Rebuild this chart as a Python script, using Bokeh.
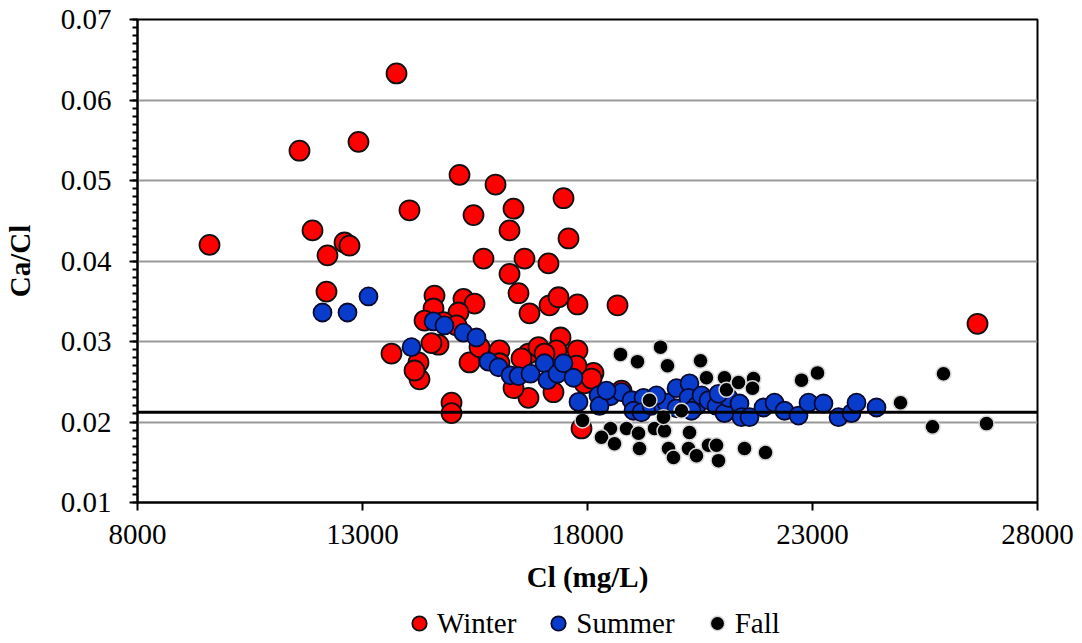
from bokeh.plotting import figure
from bokeh.layouts import column
from bokeh.models import (ColumnDataSource, FixedTicker, PrintfTickFormatter, Span,
                          Legend, LegendItem, Range1d)
from bokeh.embed import file_html
from bokeh.resources import INLINE

# ---------------- data ----------------
winter_cl = [9600, 11600, 11889, 12222, 12200, 12600, 12711, 12911, 13644, 13756,
             14044, 14244, 14267, 14156, 14600, 14578, 14378, 14689, 14533, 14978,
             14978, 15156, 15244, 15378, 15467, 15489, 15689, 15133, 15956, 16044,
             16044, 16356, 16267, 16267, 16467, 16600, 16711, 16689, 16689, 16356,
             17133, 17156, 17356, 17467, 17578, 17244, 17400, 16911, 17778, 17778,
             17933, 17867, 18133, 18667, 18756, 26667, 15600, 17311, 14800, 17044,
             17756, 18089, 15089, 16533]
winter_ratio = [0.0420, 0.0537, 0.0438, 0.0407, 0.0362, 0.0423, 0.0419, 0.0548, 0.0285, 0.0633,
                0.0463, 0.0274, 0.0253, 0.0264, 0.0357, 0.0341, 0.0326, 0.0296, 0.0298, 0.0224,
                0.0211, 0.0507, 0.0353, 0.0274, 0.0457, 0.0347, 0.0403, 0.0336, 0.0495, 0.0289,
                0.0273, 0.0465, 0.0438, 0.0384, 0.0360, 0.0403, 0.0335, 0.0285, 0.0230, 0.0242,
                0.0397, 0.0345, 0.0355, 0.0478, 0.0428, 0.0237, 0.0305, 0.0293, 0.0346, 0.0289,
                0.0248, 0.0192, 0.0261, 0.0345, 0.0239, 0.0322, 0.0293, 0.0289, 0.0324, 0.0285,
                0.0270, 0.0254, 0.0320, 0.0279]

summer_cl = [12111, 12667, 13133, 14089, 14578, 14822, 15244, 15533, 15800, 16022,
             16289, 16467, 16733, 17044, 17111, 17333, 17467, 17689, 17800, 18244,
             18511, 18756, 18978, 19244, 19022, 19200, 19422, 19689, 19756, 19978,
             19978, 20267, 20244, 20422, 20533, 20689, 20867, 21044, 21133, 21378,
             21422, 21600, 21911, 22156, 22378, 22689, 22911, 23244, 23578, 23867,
             23978, 24422, 18267, 19533, 20911, 20311, 18422]
summer_ratio = [0.0336, 0.0336, 0.0356, 0.0293, 0.0325, 0.0320, 0.0311, 0.0305, 0.0275, 0.0268,
                0.0258, 0.0257, 0.0260, 0.0273, 0.0252, 0.0260, 0.0273, 0.0255, 0.0225, 0.0233,
                0.0232, 0.0237, 0.0227, 0.0230, 0.0214, 0.0212, 0.0220, 0.0217, 0.0224, 0.0242,
                0.0217, 0.0248, 0.0230, 0.0220, 0.0233, 0.0227, 0.0220, 0.0211, 0.0230, 0.0223,
                0.0206, 0.0206, 0.0218, 0.0224, 0.0214, 0.0208, 0.0224, 0.0223, 0.0206, 0.0211,
                0.0224, 0.0218, 0.0220, 0.0233, 0.0235, 0.0214, 0.0239]

fall_cl = [18733, 19111, 19622, 19778, 20511, 20644, 21044, 21089, 21356, 21689,
           21667, 17889, 18511, 18311, 18600, 18867, 19133, 19156, 19489, 19711,
           19689, 19800, 19911, 20267, 20244, 20422, 20689, 20867, 20911, 21489,
           21956, 22756, 23111, 24956, 25667, 25911, 26867, 20089, 19378]
fall_ratio = [0.0284, 0.0275, 0.0293, 0.0270, 0.0276, 0.0255, 0.0255, 0.0240, 0.0249, 0.0254,
              0.0242, 0.0202, 0.0192, 0.0181, 0.0173, 0.0192, 0.0186, 0.0167, 0.0192, 0.0189,
              0.0206, 0.0167, 0.0156, 0.0187, 0.0167, 0.0158, 0.0171, 0.0171, 0.0152, 0.0167,
              0.0162, 0.0252, 0.0261, 0.0224, 0.0194, 0.0260, 0.0198, 0.0214, 0.0227]

x_ticks = [8000, 13000, 18000, 23000, 28000]
y_ticks = [0.01, 0.02, 0.03, 0.04, 0.05, 0.06, 0.07]
y_minor = [round(0.01 + 0.001 * i, 3) for i in range(61)]
reference_ratio = 0.0212
x_title = "Cl (mg/L)"
y_title = "Ca/Cl"
series_names = ["Winter", "Summer", "Fall"]

FONT = "Liberation Serif"
FS = "29px"

STYLES = [dict(size=20, fill_color="#FF0000", line_color="#111111", line_width=1.8),
          dict(size=18, fill_color="#0A3CCB", line_color="#0A0A30", line_width=1.8),
          dict(size=15, fill_color="#000000", line_color="#D8D8D8", line_width=1.5)]

p = figure(frame_width=900, frame_height=483, output_backend="svg", toolbar_location=None,
           x_range=Range1d(8000, 28000), y_range=Range1d(0.01, 0.07),
           min_border_left=136, min_border_right=46, min_border_top=19,
           min_border_bottom=100)
p.outline_line_color = "black"
p.outline_line_width = 2
p.background_fill_color = "white"
p.border_fill_color = "white"

# grid
p.xgrid.visible = False
p.ygrid.grid_line_color = "#999999"
p.ygrid.grid_line_width = 2

# axes
p.xaxis.ticker = FixedTicker(ticks=x_ticks)
p.xaxis.formatter = PrintfTickFormatter(format="%d")
p.yaxis.ticker = FixedTicker(ticks=y_ticks, minor_ticks=y_minor)
p.yaxis.formatter = PrintfTickFormatter(format="%.2f")
for ax in (p.xaxis[0], p.yaxis[0]):
    ax.axis_line_color = "black"
    ax.axis_line_width = 2
    ax.major_tick_line_color = "black"
    ax.major_tick_line_width = 2
    ax.major_tick_out = 8
    ax.major_tick_in = 0
    ax.major_label_text_font = FONT
    ax.major_label_text_font_size = FS
    ax.major_label_text_color = "black"
    ax.axis_label_text_font = FONT
    ax.axis_label_text_font_size = FS
    ax.axis_label_text_font_style = "bold"
    ax.axis_label_text_color = "black"
p.xaxis.minor_tick_line_color = None
p.yaxis.minor_tick_line_color = "black"
p.yaxis.minor_tick_line_width = 2
p.yaxis.minor_tick_out = 5
p.yaxis.minor_tick_in = 0
p.xaxis.axis_label = x_title
p.yaxis.axis_label = y_title
p.xaxis.major_label_standoff = 14
p.yaxis.major_label_standoff = 18
p.xaxis.axis_label_standoff = 14
p.yaxis.axis_label_standoff = 22

# reference line
p.add_layout(Span(location=reference_ratio, dimension="width",
                  line_color="black", line_width=3))

src_w = ColumnDataSource(dict(x=winter_cl, y=winter_ratio))
src_s = ColumnDataSource(dict(x=summer_cl, y=summer_ratio))
src_f = ColumnDataSource(dict(x=fall_cl, y=fall_ratio))

p.scatter("x", "y", source=src_w, **STYLES[0])
p.scatter("x", "y", source=src_s, **STYLES[1])
p.scatter("x", "y", source=src_f, **STYLES[2])

# ---------------- legend strip below the chart ----------------
lg = figure(width=1082, height=41, output_backend="svg", toolbar_location=None,
            x_range=Range1d(0, 1), y_range=Range1d(0, 1),
            min_border_left=0, min_border_right=0, min_border_top=0, min_border_bottom=0)
lg.axis.visible = False
lg.grid.visible = False
lg.outline_line_color = None
lg.background_fill_color = "white"
lg.border_fill_color = "white"

items = []
for name, st in zip(series_names, STYLES):
    # a single hidden point (outside the visible range) so the legend can draw its swatch
    r = lg.scatter(x=[-5], y=[-5], **st)
    items.append(LegendItem(label=name, renderers=[r]))

legend = Legend(items=items, orientation="horizontal", location=(264, 2),
                label_text_font=FONT, label_text_font_size=FS,
                label_text_color="black", border_line_color=None,
                background_fill_alpha=0, glyph_width=36, glyph_height=36,
                label_standoff=0, spacing=24, padding=0, margin=0)
lg.add_layout(legend, "center")

layout = column(p, lg, spacing=0)
open("out.html", "w").write(file_html(layout, INLINE))
